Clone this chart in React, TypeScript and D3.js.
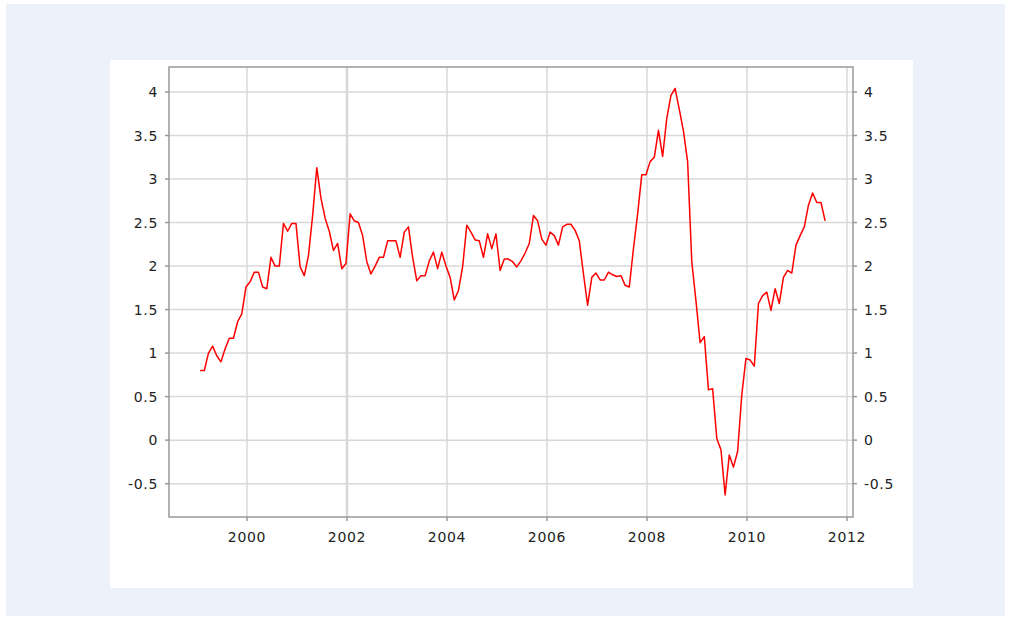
import * as d3 from 'd3';

// monthly annual-rate values, Jan 1999 .. Jul 2011
const startYear = 1999;
const values1999 = [0.8, 0.8, 1.0, 1.08, 0.97, 0.9, 1.05, 1.17, 1.17, 1.36, 1.45, 1.76];
const values2000 = [1.82, 1.93, 1.93, 1.76, 1.74, 2.1, 2.0, 2.0, 2.49, 2.4, 2.49, 2.49];
const values2001 = [1.99, 1.89, 2.12, 2.58, 3.13, 2.78, 2.55, 2.4, 2.18, 2.26, 1.97, 2.03];
const values2002 = [2.6, 2.52, 2.5, 2.35, 2.05, 1.91, 2.0, 2.1, 2.1, 2.29, 2.29, 2.29];
const values2003 = [2.1, 2.39, 2.45, 2.1, 1.83, 1.89, 1.89, 2.06, 2.16, 1.97, 2.16, 2.0];
const values2004 = [1.87, 1.61, 1.72, 1.99, 2.47, 2.39, 2.3, 2.29, 2.1, 2.37, 2.2, 2.37];
const values2005 = [1.95, 2.08, 2.08, 2.05, 1.99, 2.06, 2.15, 2.26, 2.58, 2.52, 2.31, 2.24];
const values2006 = [2.39, 2.35, 2.24, 2.45, 2.48, 2.48, 2.41, 2.29, 1.91, 1.55, 1.87, 1.92];
const values2007 = [1.84, 1.84, 1.93, 1.9, 1.88, 1.89, 1.78, 1.76, 2.2, 2.6, 3.05, 3.05];
const values2008 = [3.2, 3.25, 3.56, 3.26, 3.7, 3.96, 4.04, 3.8, 3.55, 3.2, 2.05, 1.6];
const values2009 = [1.12, 1.19, 0.58, 0.59, 0.02, -0.11, -0.63, -0.17, -0.31, -0.13, 0.52, 0.94];
const values2010 = [0.92, 0.85, 1.57, 1.66, 1.7, 1.49, 1.74, 1.57, 1.87, 1.95, 1.92, 2.24];
const values2011 = [2.35, 2.45, 2.7, 2.84, 2.73, 2.73, 2.52];

const xTicks = [2000, 2002, 2004, 2006, 2008, 2010, 2012];
const yTicks = [-0.5, 0, 0.5, 1, 1.5, 2, 2.5, 3, 3.5, 4];

const W = 1011;
const H = 618;
const plot = { left: 169, right: 853, top: 67, bottom: 517 };
const font = '"DejaVu Sans", sans-serif';

export default function App() {
  const all = [
    values1999, values2000, values2001, values2002, values2003, values2004, values2005,
    values2006, values2007, values2008, values2009, values2010, values2011,
  ].flat();
  const points = all.map((v, i) => ({ t: startYear + (i + 0.75) / 12, v }));

  const x = d3.scaleLinear().domain([1998.44, 2012.12]).range([plot.left, plot.right]);
  const y = d3.scaleLinear().domain([-0.883, 4.287]).range([plot.bottom, plot.top]);

  const line = d3.line<{ t: number; v: number }>()
    .x(d => x(d.t))
    .y(d => y(d.v));

  const label = { fontFamily: font, fontSize: 14, fill: '#222', letterSpacing: 0.7 };

  return (
    <div style={{ position: 'absolute', left: 0, top: 0, width: W, height: H }}>
      <svg width={W} height={H}>
        <rect x={0} y={0} width={W} height={H} fill="#fff" />
        <rect x={6} y={4} width={999} height={612} fill="#edf1f9" />
        <rect x={110} y={60} width={803} height={528} fill="#fff" />

        {/* grid */}
        {yTicks.map(t => (
          <line key={'gy' + t} x1={plot.left} x2={plot.right} y1={y(t)} y2={y(t)}
            stroke="#d8d8d8" strokeWidth={1.5} />
        ))}
        {xTicks.map(t => (
          <line key={'gx' + t} x1={x(t)} x2={x(t)} y1={plot.top} y2={plot.bottom}
            stroke="#d8d8d8" strokeWidth={t === 2002 ? 2.5 : 1.5} />
        ))}

        {/* frame */}
        <rect x={plot.left} y={plot.top} width={plot.right - plot.left} height={plot.bottom - plot.top}
          fill="none" stroke="#999" strokeWidth={1.5} />

        {/* ticks + labels */}
        {yTicks.map(t => (
          <g key={'ty' + t}>
            <line x1={plot.left - 4} x2={plot.left} y1={y(t)} y2={y(t)} stroke="#999" strokeWidth={1.5} />
            <line x1={plot.right} x2={plot.right + 4} y1={y(t)} y2={y(t)} stroke="#999" strokeWidth={1.5} />
            <text x={plot.left - 11} y={y(t)} dy="0.36em" textAnchor="end" {...label}>{String(t)}</text>
            <text x={plot.right + 11} y={y(t)} dy="0.36em" textAnchor="start" {...label}>{String(t)}</text>
          </g>
        ))}
        {xTicks.map(t => (
          <g key={'tx' + t}>
            <line x1={x(t)} x2={x(t)} y1={plot.bottom} y2={plot.bottom + 4} stroke="#999" strokeWidth={1.5} />
            <text x={x(t)} y={plot.bottom + 20} dy="0.36em" textAnchor="middle" {...label}>{String(t)}</text>
          </g>
        ))}

        <path d={line(points) ?? ''} fill="none" stroke="#ff0000" strokeWidth={1.5} strokeLinejoin="round" />
      </svg>
    </div>
  );
}
